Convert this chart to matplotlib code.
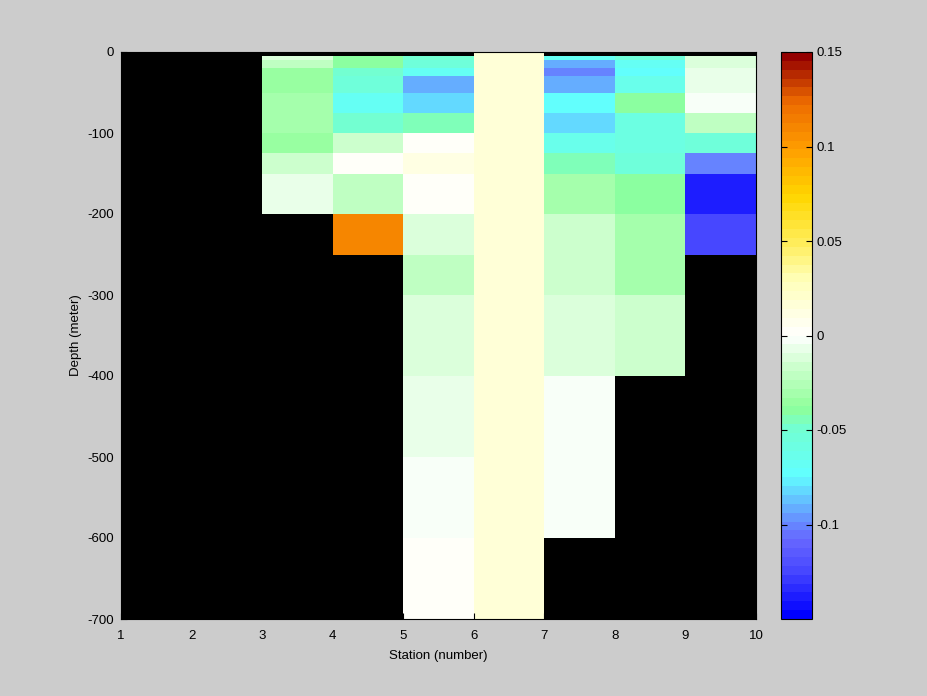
import numpy as np
import matplotlib
matplotlib.use("Agg")
import matplotlib.pyplot as plt
from matplotlib.colors import LinearSegmentedColormap

plt.rcParams['font.family'] = ['Liberation Sans', 'DejaVu Sans']
plt.rcParams['axes.unicode_minus'] = False

# Station edges and depth edges (m)
stations = [1, 2, 3, 4, 5, 6, 7, 8, 9, 10]
depths = [0, -5, -10, -20, -30, -50, -75, -100, -125, -150, -200, -250,
          -300, -400, -500, -600, -700]

nan = np.nan
# values per station cell (columns between station i and i+1), rows top->bottom
st1 = [nan] * 16
st2 = [nan] * 16
st3 = [nan, -0.010, -0.020, -0.035, -0.035, -0.030, -0.030, -0.035, -0.018,
       -0.008, nan, nan, nan, nan, nan, nan]
st4 = [nan, -0.040, -0.040, -0.050, -0.055, -0.070, -0.047, -0.018, 0.001,
       -0.022, 0.110, nan, nan, nan, nan, nan]
st5 = [nan, -0.050, -0.055, -0.070, -0.090, -0.080, -0.043, 0.002, 0.010,
       0.002, -0.012, -0.019, -0.012, -0.009, -0.003, 0.002]
st6 = [0.015] * 16
st7 = [nan, -0.070, -0.090, -0.100, -0.090, -0.072, -0.080, -0.065, -0.043,
       -0.030, -0.018, -0.018, -0.013, -0.004, -0.004, nan]
st8 = [nan, -0.055, -0.070, -0.075, -0.063, -0.042, -0.057, -0.057, -0.052,
       -0.040, -0.030, -0.030, -0.018, nan, nan, nan]
st9 = [nan, -0.013, -0.013, -0.008, -0.008, -0.002, -0.020, -0.052, -0.100,
       -0.140, -0.122, nan, nan, nan, nan, nan]

C = np.ma.masked_invalid(np.array([st1, st2, st3, st4, st5, st6, st7, st8, st9]).T)

vmin, vmax = -0.15, 0.15
anchors = [
    (0.000, (0.00, 0.00, 1.00)),
    (0.033, (0.12, 0.12, 1.00)),
    (0.083, (0.29, 0.29, 1.00)),
    (0.133, (0.40, 0.40, 1.00)),
    (0.167, (0.40, 0.55, 1.00)),
    (0.250, (0.38, 1.00, 1.00)),
    (0.333, (0.45, 1.00, 0.82)),
    (0.370, (0.56, 1.00, 0.60)),
    (0.450, (0.82, 1.00, 0.82)),
    (0.500, (1.00, 1.00, 1.00)),
    (0.600, (1.00, 1.00, 0.72)),
    (0.667, (1.00, 0.93, 0.35)),
    (0.750, (1.00, 0.84, 0.00)),
    (0.833, (1.00, 0.62, 0.00)),
    (0.917, (0.93, 0.42, 0.00)),
    (1.000, (0.58, 0.00, 0.00)),
]
cmap = LinearSegmentedColormap.from_list("custom", anchors, N=64)
cmap.set_bad((0, 0, 0, 0))

fig = plt.figure(figsize=(9.28, 6.96), dpi=100, facecolor='#cccccc')
ax = fig.add_axes([121/928, 77/696, 635/928, 567/696])
ax.set_facecolor('black')
mesh = ax.pcolormesh(stations, depths, C, cmap=cmap, vmin=vmin, vmax=vmax,
                     shading='flat')
ax.set_xlim(1, 10)
ax.set_ylim(-700, 0)
ax.set_xticks(stations)
ax.set_yticks(np.arange(-700, 1, 100))
ax.tick_params(direction='in', length=4, labelsize=9.5, colors='black')
ax.tick_params(axis='x', pad=8)
ax.tick_params(axis='y', pad=5)
for s in ax.spines.values():
    s.set_color('black')
ax.set_xlabel('Station (number)', fontsize=9.5, labelpad=6)
ax.set_ylabel('Depth (meter)', fontsize=9.5, labelpad=4)

cax = fig.add_axes([781/928, 77/696, 31/928, 567/696])
cb = fig.colorbar(mesh, cax=cax)
cb.set_ticks([-0.1, -0.05, 0, 0.05, 0.1, 0.15])
cb.set_ticklabels(['-0.1', '-0.05', '0', '0.05', '0.1', '0.15'])
cax.tick_params(direction='in', length=4, labelsize=9.5, left=True, right=True)
cb.outline.set_edgecolor('black')

fig.savefig('out.png', dpi=100, facecolor=fig.get_facecolor())
